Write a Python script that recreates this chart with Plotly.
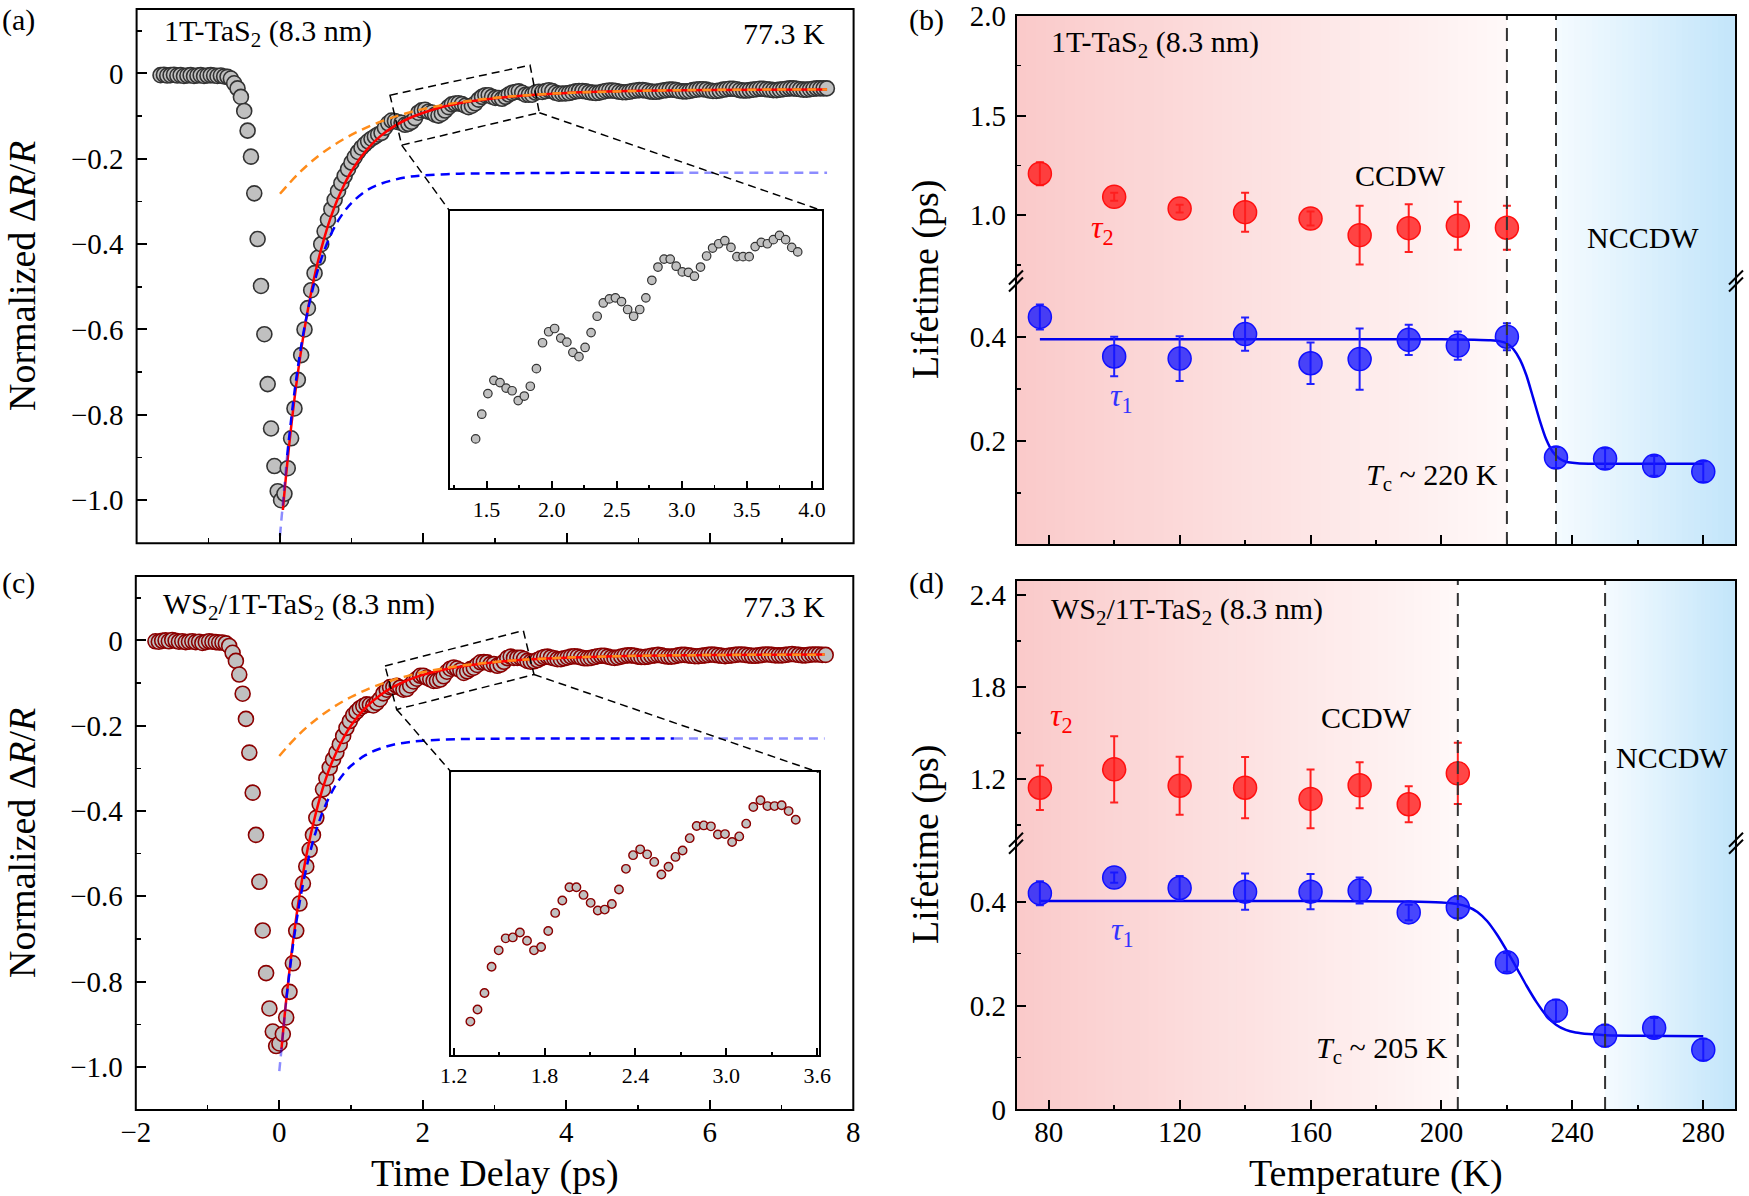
import plotly.graph_objects as go

W, H = 1749, 1196
FONT = "Liberation Serif"

# ---------------- panel (a): 1T-TaS2, 77.3 K ----------------
delay_a = [
    -1.666, -1.619, -1.573, -1.526, -1.479, -1.432, -1.386, -1.339, -1.292, -1.246,
    -1.199, -1.152, -1.106, -1.059, -1.012, -0.966, -0.919, -0.872, -0.825, -0.779,
    -0.732, -0.685, -0.639, -0.592, -0.545, -0.499, -0.452, -0.405, -0.359, -0.312,
    -0.265, -0.218, -0.172, -0.125, -0.078, -0.032, 0.015, 0.062, 0.108, 0.155,
    0.202, 0.249, 0.295, 0.342, 0.389, 0.435, 0.482, 0.529, 0.575, 0.622,
    0.669, 0.716, 0.762, 0.809, 0.856, 0.902, 0.949, 0.996, 1.042, 1.089,
    1.136, 1.183, 1.229, 1.276, 1.323, 1.369, 1.416, 1.463, 1.510, 1.556,
    1.603, 1.650, 1.696, 1.743, 1.790, 1.836, 1.883, 1.930, 1.977, 2.023,
    2.070, 2.117, 2.163, 2.210, 2.257, 2.303, 2.350, 2.397, 2.444, 2.490,
    2.537, 2.584, 2.630, 2.677, 2.724, 2.770, 2.817, 2.864, 2.911, 2.957,
    3.004, 3.051, 3.097, 3.144, 3.191, 3.237, 3.284, 3.331, 3.378, 3.424,
    3.471, 3.518, 3.564, 3.611, 3.658, 3.704, 3.751, 3.798, 3.845, 3.891,
    3.938, 3.985, 4.031, 4.078, 4.125, 4.171, 4.218, 4.265, 4.312, 4.358,
    4.405, 4.452, 4.498, 4.545, 4.592, 4.638, 4.685, 4.732, 4.779, 4.825,
    4.872, 4.919, 4.965, 5.012, 5.059, 5.105, 5.152, 5.199, 5.246, 5.292,
    5.339, 5.386, 5.432, 5.479, 5.526, 5.572, 5.619, 5.666, 5.713, 5.759,
    5.806, 5.853, 5.899, 5.946, 5.993, 6.039, 6.086, 6.133, 6.180, 6.226,
    6.273, 6.320, 6.366, 6.413, 6.460, 6.506, 6.553, 6.600, 6.647, 6.693,
    6.740, 6.787, 6.833, 6.880, 6.927, 6.973, 7.020, 7.067, 7.114, 7.160,
    7.207, 7.254, 7.300, 7.347, 7.394, 7.440, 7.487, 7.534, 7.581, 7.627,
]
signal_a = [
    -0.004, -0.003, -0.005, -0.004, -0.003, -0.005, -0.004, -0.006, -0.005, -0.004,
    -0.006, -0.005, -0.004, -0.006, -0.005, -0.004, -0.005, -0.006, -0.005, -0.007,
    -0.008, -0.012, -0.023, -0.035, -0.055, -0.088, -0.134, -0.195, -0.281, -0.388,
    -0.498, -0.611, -0.728, -0.832, -0.920, -0.979, -1.000, -0.985, -0.925, -0.855,
    -0.785, -0.718, -0.660, -0.600, -0.550, -0.508, -0.468, -0.432, -0.400, -0.370,
    -0.343, -0.318, -0.296, -0.276, -0.257, -0.240, -0.224, -0.209, -0.196, -0.184,
    -0.174, -0.166, -0.159, -0.153, -0.148, -0.143, -0.1391, -0.1270, -0.1169, -0.1104,
    -0.1115, -0.1142, -0.1155, -0.1203, -0.1181, -0.1133, -0.1047, -0.0920, -0.0866, -0.0850,
    -0.0897, -0.0917, -0.0967, -0.0988, -0.0943, -0.0870, -0.0790, -0.0725, -0.0705, -0.0700,
    -0.0718, -0.0757, -0.0790, -0.0757, -0.0700, -0.0614, -0.0549, -0.0510, -0.0510, -0.0545,
    -0.0573, -0.0575, -0.0594, -0.0549, -0.0495, -0.0456, -0.0435, -0.0420, -0.0453, -0.0498,
    -0.0498, -0.0498, -0.0449, -0.0428, -0.0435, -0.0415, -0.0394, -0.0415, -0.0453, -0.0475,
    -0.047, -0.047, -0.046, -0.044, -0.042, -0.041, -0.041, -0.042, -0.044, -0.045,
    -0.046, -0.045, -0.043, -0.041, -0.040, -0.040, -0.041, -0.043, -0.044, -0.044,
    -0.043, -0.041, -0.040, -0.039, -0.039, -0.040, -0.042, -0.043, -0.043, -0.042,
    -0.040, -0.039, -0.038, -0.038, -0.039, -0.041, -0.042, -0.042, -0.041, -0.039,
    -0.038, -0.037, -0.037, -0.038, -0.040, -0.041, -0.041, -0.040, -0.038, -0.037,
    -0.036, -0.036, -0.037, -0.039, -0.040, -0.040, -0.039, -0.038, -0.037, -0.036,
    -0.036, -0.037, -0.038, -0.039, -0.039, -0.038, -0.037, -0.036, -0.035, -0.035,
    -0.036, -0.037, -0.038, -0.038, -0.037, -0.036, -0.035, -0.035, -0.035, -0.035,
]
INSET_A = (66, 120)          # points shown in the inset of (a)

fit_t_a = [0.04, 0.1, 0.2, 0.3, 0.4, 0.5, 0.6, 0.7, 0.8, 0.9, 1.0, 1.2, 1.4, 1.6,
           1.8, 2.0, 2.3, 2.6, 3.0, 3.5, 4.0, 5.0, 6.0, 7.63]
fit_a = [-1.023, -0.916, -0.765, -0.643, -0.543, -0.461, -0.396, -0.341, -0.296,
         -0.259, -0.228, -0.181, -0.147, -0.123, -0.105, -0.092, -0.077, -0.067,
         -0.058, -0.0506, -0.0457, -0.0408, -0.0386, -0.0374]
slow_t_a = [0, 0.25, 0.5, 0.75, 1.0, 1.25, 1.5, 1.75, 2.0, 2.5, 3.0, 3.5, 4.0, 5.0, 6.0, 7.63]
slow_a = [-0.282, -0.236, -0.198, -0.168, -0.1436, -0.1235, -0.1072, -0.094, -0.0833,
          -0.0675, -0.0571, -0.0503, -0.0457, -0.0408, -0.0386, -0.0374]
fast_t_a = [0, 0.1, 0.2, 0.3, 0.4, 0.5, 0.6, 0.7, 0.8, 0.9, 1.0, 1.2, 1.4, 1.6, 1.8,
            2.0, 2.5, 3.0, 4.0, 5.5, 7.63]
fast_a = [-1.083, -0.895, -0.749, -0.634, -0.546, -0.477, -0.423, -0.381, -0.348,
          -0.323, -0.303, -0.275, -0.259, -0.249, -0.242, -0.239, -0.235, -0.234,
          -0.233, -0.233, -0.233]

# ---------------- panel (c): WS2/1T-TaS2, 77.3 K ----------------
delay_c = [
    -1.726, -1.679, -1.632, -1.585, -1.539, -1.492, -1.445, -1.399, -1.352, -1.305,
    -1.259, -1.212, -1.165, -1.118, -1.072, -1.025, -0.978, -0.932, -0.885, -0.838,
    -0.792, -0.745, -0.698, -0.651, -0.605, -0.558, -0.511, -0.465, -0.418, -0.371,
    -0.325, -0.278, -0.231, -0.184, -0.138, -0.091, -0.044, 0.002, 0.049, 0.096,
    0.142, 0.189, 0.236, 0.282, 0.329, 0.376, 0.423, 0.469, 0.516, 0.563,
    0.609, 0.656, 0.703, 0.749, 0.796, 0.843, 0.890, 0.936, 0.983, 1.030,
    1.076, 1.123, 1.170, 1.216, 1.263, 1.310, 1.357, 1.403, 1.450, 1.497,
    1.543, 1.590, 1.637, 1.684, 1.730, 1.777, 1.824, 1.870, 1.917, 1.964,
    2.010, 2.057, 2.104, 2.151, 2.197, 2.244, 2.291, 2.337, 2.384, 2.431,
    2.477, 2.524, 2.571, 2.618, 2.664, 2.711, 2.758, 2.804, 2.851, 2.898,
    2.944, 2.991, 3.038, 3.085, 3.131, 3.178, 3.225, 3.271, 3.318, 3.365,
    3.411, 3.458, 3.505, 3.552, 3.598, 3.645, 3.692, 3.738, 3.785, 3.832,
    3.878, 3.925, 3.972, 4.019, 4.065, 4.112, 4.159, 4.205, 4.252, 4.299,
    4.345, 4.392, 4.439, 4.486, 4.532, 4.579, 4.626, 4.672, 4.719, 4.766,
    4.812, 4.859, 4.906, 4.953, 4.999, 5.046, 5.093, 5.139, 5.186, 5.233,
    5.279, 5.326, 5.373, 5.420, 5.466, 5.513, 5.560, 5.606, 5.653, 5.700,
    5.746, 5.793, 5.840, 5.887, 5.933, 5.980, 6.027, 6.073, 6.120, 6.167,
    6.213, 6.260, 6.307, 6.354, 6.400, 6.447, 6.494, 6.540, 6.587, 6.634,
    6.680, 6.727, 6.774, 6.821, 6.867, 6.914, 6.961, 7.007, 7.054, 7.101,
    7.147, 7.194, 7.241, 7.288, 7.334, 7.381, 7.428, 7.474, 7.521, 7.568,
    7.615,
]
signal_c = [
    -0.002, -0.003, -0.001, 0.000, -0.002, 0.001, -0.001, -0.003, -0.002, -0.004,
    -0.003, -0.002, -0.004, -0.003, -0.006, -0.004, -0.002, -0.003, -0.004, -0.005,
    -0.005, -0.007, -0.013, -0.029, -0.048, -0.080, -0.125, -0.184, -0.263, -0.357,
    -0.456, -0.566, -0.680, -0.780, -0.863, -0.917, -0.951, -0.945, -0.923, -0.884,
    -0.824, -0.757, -0.681, -0.617, -0.570, -0.530, -0.491, -0.456, -0.416, -0.384,
    -0.349, -0.323, -0.298, -0.279, -0.263, -0.244, -0.224, -0.205, -0.189, -0.175,
    -0.167, -0.159, -0.154, -0.150, -0.151, -0.1526, -0.1463, -0.1378, -0.1242, -0.1157,
    -0.1095, -0.1090, -0.1065, -0.1107, -0.1157, -0.1140, -0.1057, -0.0963, -0.0899, -0.0830,
    -0.0830, -0.0870, -0.0911, -0.0951, -0.0946, -0.0917, -0.0842, -0.0735, -0.0664, -0.0634,
    -0.0660, -0.0699, -0.0764, -0.0724, -0.0673, -0.0640, -0.0576, -0.0513, -0.0510, -0.0515,
    -0.0557, -0.0555, -0.0596, -0.0567, -0.0501, -0.0415, -0.0380, -0.0410, -0.0410, -0.0406,
    -0.0436, -0.0481, -0.050, -0.049, -0.046, -0.042, -0.039, -0.038, -0.040, -0.042,
    -0.044, -0.044, -0.042, -0.040, -0.038, -0.037, -0.038, -0.040, -0.042, -0.042,
    -0.041, -0.039, -0.037, -0.036, -0.036, -0.038, -0.040, -0.041, -0.040, -0.038,
    -0.036, -0.035, -0.035, -0.036, -0.038, -0.039, -0.039, -0.038, -0.036, -0.035,
    -0.034, -0.035, -0.037, -0.038, -0.038, -0.037, -0.035, -0.034, -0.034, -0.035,
    -0.036, -0.037, -0.037, -0.036, -0.035, -0.034, -0.033, -0.034, -0.035, -0.036,
    -0.037, -0.036, -0.035, -0.034, -0.033, -0.033, -0.034, -0.035, -0.036, -0.036,
    -0.035, -0.034, -0.033, -0.033, -0.034, -0.035, -0.035, -0.035, -0.034, -0.033,
    -0.032, -0.033, -0.034, -0.035, -0.035, -0.034, -0.033, -0.033, -0.033, -0.034,
    -0.034,
]
INSET_C = (65, 112)          # points shown in the inset of (c)

fit_t_c = [0.03, 0.1, 0.2, 0.3, 0.4, 0.5, 0.6, 0.7, 0.8, 0.9, 1.0, 1.2, 1.4, 1.6,
           1.8, 2.0, 2.3, 2.6, 3.0, 3.5, 4.0, 5.0, 6.0, 7.6]
fit_c = [-0.959, -0.837, -0.694, -0.578, -0.485, -0.411, -0.350, -0.300, -0.2605,
         -0.227, -0.1997, -0.158, -0.129, -0.108, -0.0925, -0.0808, -0.0681, -0.0592,
         -0.051, -0.0444, -0.0404, -0.0361, -0.0343, -0.0333]
slow_t_c = [0, 0.25, 0.5, 0.75, 1.0, 1.25, 1.5, 1.75, 2.0, 2.5, 3.0, 3.5, 4.0, 5.0, 6.0, 7.6]
slow_c = [-0.271, -0.2245, -0.187, -0.157, -0.1327, -0.1132, -0.0975, -0.0849, -0.0748,
          -0.0601, -0.0505, -0.0444, -0.0404, -0.0361, -0.0343, -0.0333]
fast_t_c = [0, 0.1, 0.2, 0.3, 0.4, 0.5, 0.6, 0.7, 0.8, 0.9, 1.0, 1.2, 1.4, 1.6, 1.8,
            2.0, 2.5, 3.0, 4.0, 5.5, 7.6]
fast_c = [-1.010, -0.838, -0.703, -0.598, -0.517, -0.4535, -0.404, -0.366, -0.3355,
          -0.312, -0.294, -0.269, -0.254, -0.244, -0.2387, -0.2352, -0.2315, -0.2304,
          -0.230, -0.230, -0.230]

# ---------------- panel (b): lifetimes, 1T-TaS2 ----------------
temp_b_tau2 = [77.3, 100, 120, 140, 160, 175, 190, 205, 220]
tau2_b = [1.208, 1.092, 1.033, 1.015, 0.983, 0.900, 0.935, 0.947, 0.937]
tau2_b_err = [0.058, 0.02, 0.02, 0.098, 0.035, 0.147, 0.12, 0.12, 0.11]
temp_b_tau1 = [77.3, 100, 120, 140, 160, 175, 190, 205, 220, 235, 250, 265, 280]
tau1_b = [0.438, 0.362, 0.358, 0.405, 0.349, 0.357, 0.394, 0.383, 0.400, 0.168, 0.166, 0.152, 0.141]
tau1_b_err = [0.024, 0.038, 0.043, 0.032, 0.040, 0.059, 0.029, 0.027, 0.026, 0.02, 0.02, 0.019, 0.02]
fit_T_b = [77.3, 100, 150, 200, 210, 215, 218, 220, 222, 224, 226, 228, 230, 232, 234,
           236, 238, 240, 245, 250, 260, 270, 280]
fit_tau1_b = [0.395, 0.395, 0.395, 0.395, 0.394, 0.393, 0.391, 0.387, 0.376, 0.356,
              0.325, 0.283, 0.240, 0.203, 0.179, 0.166, 0.160, 0.158, 0.156, 0.156,
              0.156, 0.156, 0.156]
phase_b = [220, 235]         # dashed boundaries (K)

# ---------------- panel (d): lifetimes, WS2/1T-TaS2 ----------------
temp_d_tau2 = [77.3, 100, 120, 140, 160, 175, 190, 205]
tau2_d = [1.143, 1.263, 1.156, 1.143, 1.070, 1.159, 1.035, 1.237]
tau2_d_err = [0.145, 0.216, 0.189, 0.20, 0.192, 0.15, 0.117, 0.20]
temp_d_tau1 = [77.3, 100, 120, 140, 160, 175, 190, 205, 220, 235, 250, 265, 280]
tau1_d = [0.416, 0.446, 0.426, 0.419, 0.419, 0.421, 0.379, 0.389, 0.283, 0.190, 0.142, 0.157, 0.115]
tau1_d_err = [0.023, 0.01, 0.023, 0.035, 0.034, 0.025, 0.015, 0.021, 0.018, 0.021, 0.021, 0.019, 0.021]
fit_T_d = [77.3, 120, 160, 190, 200, 205, 208, 211, 214, 217, 220, 223, 226, 229, 232,
           235, 238, 241, 245, 250, 260, 280]
fit_tau1_d = [0.401, 0.401, 0.401, 0.400, 0.398, 0.395, 0.390, 0.380, 0.362, 0.336,
              0.305, 0.272, 0.238, 0.207, 0.181, 0.163, 0.153, 0.148, 0.145, 0.143,
              0.142, 0.141]
phase_d = [205, 250]

# zoom-box outlines (data coords of main panels)
zoombox_a = [(1.534, -0.051), (3.487, 0.0195), (3.617, -0.092), (1.697, -0.168)]
zoombox_c = [(1.473, -0.060), (3.401, 0.023), (3.550, -0.080), (1.636, -0.162)]

# ---------------- layout geometry (paper fractions) ----------------
def fx(p):
    return p / W


def fy(p):
    return 1 - p / H


DOM_A_X = [fx(136.6), fx(853.6)]
DOM_A_Y = [fy(543.3), fy(9)]
DOM_C_X = [fx(135.8), fx(853.3)]
DOM_C_Y = [fy(1110), fy(576)]
DOM_IA_X = [fx(449.5), fx(822.3)]
DOM_IA_Y = [fy(488.3), fy(210.7)]
DOM_IC_X = [fx(451.3), fx(818.6)]
DOM_IC_Y = [fy(1055), fy(772.3)]
DOM_BD_X = [fx(1016), fx(1736)]
DOM_B_UP = [fy(281), fy(15)]
DOM_B_LO = [fy(545), fy(281)]
DOM_D_UP = [fy(843.3), fy(580)]
DOM_D_LO = [fy(1110), fy(843.3)]

RANGE_T = [-2, 8]
RANGE_V = [-1.101, 0.151]
RANGE_IA_X = [1.215, 4.08]
RANGE_IA_Y = [-0.1633, -0.0273]
RANGE_IC_X = [1.184, 3.609]
RANGE_IC_Y = [-0.1699, -0.0235]
RANGE_TEMP = [70, 290]

GRAY = '#C0C0C0'
RED = '#FF0000'
BLUE = '#0000FF'
ORANGE = '#FF8C1A'

TICK_SIZE = 29
TITLE_SIZE = 38
TEXT_SIZE = 30

fig = go.Figure()


def decay_traces(xa, ya, t, v, edge, ft, fv, st, sv, bt, bv):
    fig.add_trace(go.Scatter(x=t, y=v, mode='markers', xaxis=xa, yaxis=ya,
                             marker=dict(size=15, color=GRAY, line=dict(color=edge, width=1.6)),
                             hoverinfo='skip'))
    fig.add_trace(go.Scatter(x=ft, y=fv, mode='lines', xaxis=xa, yaxis=ya,
                             line=dict(color=RED, width=2.5, shape='spline'), hoverinfo='skip'))
    # fast component (blue dashed), faded at both ends
    fig.add_trace(go.Scatter(x=bt[:2], y=bv[:2], mode='lines', xaxis=xa, yaxis=ya, opacity=0.45,
                             line=dict(color=BLUE, width=2.5, dash='9px,6px'), hoverinfo='skip'))
    fig.add_trace(go.Scatter(x=bt[1:20], y=bv[1:20], mode='lines', xaxis=xa, yaxis=ya,
                             line=dict(color=BLUE, width=2.5, dash='9px,6px', shape='spline'),
                             hoverinfo='skip'))
    fig.add_trace(go.Scatter(x=bt[19:], y=bv[19:], mode='lines', xaxis=xa, yaxis=ya, opacity=0.45,
                             line=dict(color=BLUE, width=2.5, dash='9px,6px'), hoverinfo='skip'))
    fig.add_trace(go.Scatter(x=st, y=sv, mode='lines', xaxis=xa, yaxis=ya,
                             line=dict(color=ORANGE, width=2.5, dash='9px,6px', shape='spline'),
                             hoverinfo='skip'))


decay_traces('x', 'y', delay_a, signal_a, '#333333', fit_t_a, fit_a, slow_t_a, slow_a, fast_t_a, fast_a)
decay_traces('x3', 'y3', delay_c, signal_c, '#8B0000', fit_t_c, fit_c, slow_t_c, slow_c, fast_t_c, fast_c)

# insets
fig.add_trace(go.Scatter(x=delay_a[INSET_A[0]:INSET_A[1]], y=signal_a[INSET_A[0]:INSET_A[1]],
                         mode='markers', xaxis='x2', yaxis='y2',
                         marker=dict(size=8.5, color=GRAY, line=dict(color='#333333', width=1.2)),
                         hoverinfo='skip'))
fig.add_trace(go.Scatter(x=delay_c[INSET_C[0]:INSET_C[1]], y=signal_c[INSET_C[0]:INSET_C[1]],
                         mode='markers', xaxis='x4', yaxis='y4',
                         marker=dict(size=8.5, color=GRAY, line=dict(color='#8B0000', width=1.4)),
                         hoverinfo='skip'))


def lifetime_traces(xa, ya_up, ya_lo, T2, tau2, e2, T1, tau1, e1, fT, fv):
    fig.add_trace(go.Scatter(x=T2, y=tau2, mode='markers', xaxis=xa, yaxis=ya_up,
                             marker=dict(size=23, color='rgba(255,30,30,0.82)',
                                         line=dict(color='#FF1010', width=1.5)),
                             error_y=dict(type='data', array=e2, color='#FF2020', thickness=2, width=4),
                             hoverinfo='skip'))
    fig.add_trace(go.Scatter(x=fT, y=fv, mode='lines', xaxis=xa, yaxis=ya_lo,
                             line=dict(color='#0000EE', width=2.5, shape='spline', smoothing=0.6),
                             hoverinfo='skip'))
    fig.add_trace(go.Scatter(x=T1, y=tau1, mode='markers', xaxis=xa, yaxis=ya_lo,
                             marker=dict(size=23, color='rgba(20,20,255,0.78)',
                                         line=dict(color='#1010FF', width=1.5)),
                             error_y=dict(type='data', array=e1, color='#2020FF', thickness=2, width=4),
                             hoverinfo='skip'))


lifetime_traces('x5', 'y5', 'y6', temp_b_tau2, tau2_b, tau2_b_err, temp_b_tau1, tau1_b, tau1_b_err,
                fit_T_b, fit_tau1_b)
lifetime_traces('x6', 'y7', 'y8', temp_d_tau2, tau2_d, tau2_d_err, temp_d_tau1, tau1_d, tau1_d_err,
                fit_T_d, fit_tau1_d)


# ---------------- axes ----------------
def axis(domain, anchor, rng, tickvals, ticktext=None, minor=None, labels=True, size=TICK_SIZE,
         ticklen=10, standoff=9, **kw):
    d = dict(domain=domain, anchor=anchor, range=rng, showgrid=False, zeroline=False,
             showline=False, ticks='inside', ticklen=ticklen, tickwidth=2, tickcolor='black',
             tickmode='array', tickvals=tickvals, showticklabels=labels, automargin=False,
             tickfont=dict(family=FONT, size=size, color='black'), ticklabelstandoff=standoff,
             ticklabeloverflow='allow')
    if ticktext is not None:
        d['ticktext'] = ticktext
    if minor is not None:
        d['minor'] = dict(tickmode='array', tickvals=minor, ticks='inside', ticklen=ticklen / 2,
                          tickwidth=1.5, tickcolor='black', showgrid=False)
    d.update(kw)
    return d


t_ticks = [-2, 0, 2, 4, 6, 8]
t_minor = [-1, 1, 3, 5, 7]
v_ticks = [0, -0.2, -0.4, -0.6, -0.8, -1.0]
v_text = ['0', '\u22120.2', '\u22120.4', '\u22120.6', '\u22120.8', '\u22121.0']
v_minor = [0.1, -0.1, -0.3, -0.5, -0.7, -0.9]
T_ticks = [80, 120, 160, 200, 240, 280]
T_minor = [100, 140, 180, 220, 260]

inset_line = dict(showline=True, mirror=True, linecolor='black', linewidth=2)

layout_axes = dict(
    xaxis=axis(DOM_A_X, 'y', RANGE_T, t_ticks, minor=t_minor, labels=False),
    yaxis=axis(DOM_A_Y, 'x', RANGE_V, v_ticks, v_text, v_minor, standoff=12),
    xaxis2=axis(DOM_IA_X, 'y2', RANGE_IA_X, [1.5, 2.0, 2.5, 3.0, 3.5, 4.0],
                ['1.5', '2.0', '2.5', '3.0', '3.5', '4.0'],
                [1.25, 1.75, 2.25, 2.75, 3.25, 3.75], size=22, ticklen=7, standoff=0,
                **inset_line),
    yaxis2=dict(domain=DOM_IA_Y, anchor='x2', range=RANGE_IA_Y, showgrid=False, zeroline=False,
                showticklabels=False, ticks='', automargin=False, **inset_line),
    xaxis3=axis(DOM_C_X, 'y3', RANGE_T, t_ticks, minor=t_minor, standoff=2),
    yaxis3=axis(DOM_C_Y, 'x3', RANGE_V, v_ticks, v_text, v_minor, standoff=12),
    xaxis4=axis(DOM_IC_X, 'y4', RANGE_IC_X, [1.2, 1.8, 2.4, 3.0, 3.6],
                ['1.2', '1.8', '2.4', '3.0', '3.6'], [1.5, 2.1, 2.7, 3.3],
                size=22, ticklen=7, standoff=0, **inset_line),
    yaxis4=dict(domain=DOM_IC_Y, anchor='x4', range=RANGE_IC_Y, showgrid=False, zeroline=False,
                showticklabels=False, ticks='', automargin=False, **inset_line),
    xaxis5=axis(DOM_BD_X, 'y6', RANGE_TEMP, T_ticks, minor=T_minor, labels=False),
    yaxis5=axis(DOM_B_UP, 'x5', [0.67, 2.004], [1.0, 1.5, 2.0], ['1.0', '1.5', '2.0'],
                [0.75, 1.25, 1.75]),
    yaxis6=axis(DOM_B_LO, 'x5', [0, 0.507], [0.2, 0.4], ['0.2', '0.4'], [0.1, 0.3]),
    xaxis6=axis(DOM_BD_X, 'y8', RANGE_TEMP, T_ticks, minor=T_minor, standoff=2),
    yaxis7=axis(DOM_D_UP, 'x6', [0.78, 2.5], [1.2, 1.8, 2.4], ['1.2', '1.8', '2.4'],
                [0.9, 1.5, 2.1]),
    yaxis8=axis(DOM_D_LO, 'x6', [-0.001, 0.512], [0, 0.2, 0.4], ['0', '0.2', '0.4'], [0.1, 0.3]),
)

# ---------------- shapes ----------------
shapes = []


def gradient(xref, x0, x1, c0, c1, y0, y1, n=50):
    step = (x1 - x0) / n
    for k in range(n):
        f = (k + 0.5) / n
        col = tuple(int(round(c0[i] + (c1[i] - c0[i]) * f)) for i in range(3))
        xb = x0 + step * (k + 1) + (step * 0.4 if k < n - 1 else 0)
        shapes.append(dict(type='rect', xref=xref, yref='paper', x0=x0 + step * k, x1=xb,
                           y0=y0, y1=y1, fillcolor='rgb(%d,%d,%d)' % col,
                           line=dict(width=0), layer='below'))


PINK0, PINK1 = (250, 202, 202), (255, 248, 248)
SKY0, SKY1 = (245, 251, 255), (194, 229, 250)
gradient('x5', RANGE_TEMP[0], phase_b[0], PINK0, PINK1, DOM_B_LO[0], DOM_B_UP[1])
gradient('x5', phase_b[1], RANGE_TEMP[1], SKY0, SKY1, DOM_B_LO[0], DOM_B_UP[1], n=30)
gradient('x6', RANGE_TEMP[0], phase_d[0], PINK0, PINK1, DOM_D_LO[0], DOM_D_UP[1])
gradient('x6', phase_d[1], RANGE_TEMP[1], SKY0, SKY1, DOM_D_LO[0], DOM_D_UP[1], n=30)

for xref, bounds, lo, hi in (('x5', phase_b, DOM_B_LO[0], DOM_B_UP[1]),
                             ('x6', phase_d, DOM_D_LO[0], DOM_D_UP[1])):
    for xv in bounds:
        shapes.append(dict(type='line', xref=xref, yref='paper', x0=xv, x1=xv, y0=lo, y1=hi,
                           line=dict(color='#333333', width=2, dash='13px,8px'), layer='above'))

# panel frames
for dx, dy in ((DOM_A_X, DOM_A_Y), (DOM_C_X, DOM_C_Y),
               (DOM_BD_X, [DOM_B_LO[0], DOM_B_UP[1]]), (DOM_BD_X, [DOM_D_LO[0], DOM_D_UP[1]])):
    shapes.append(dict(type='rect', xref='paper', yref='paper', x0=dx[0], x1=dx[1], y0=dy[0],
                       y1=dy[1], line=dict(color='black', width=2), fillcolor='rgba(0,0,0,0)',
                       layer='above'))

# axis-break marks
for yb in (DOM_B_UP[0], DOM_D_UP[0]):
    for xb in DOM_BD_X:
        xp, yp = xb * W, (1 - yb) * H
        for off in (-3.5, 3.5):
            shapes.append(dict(type='line', xref='paper', yref='paper',
                               x0=fx(xp - 7), y0=fy(yp + 7 + off), x1=fx(xp + 7), y1=fy(yp - 7 + off),
                               line=dict(color='black', width=2), layer='above'))


def to_main(frac, dom, rng):
    return rng[0] + (frac - dom[0]) / (dom[1] - dom[0]) * (rng[1] - rng[0])


for xa, ya, box, dmx, dmy, dix, diy in (('x', 'y', zoombox_a, DOM_A_X, DOM_A_Y, DOM_IA_X, DOM_IA_Y),
                                        ('x3', 'y3', zoombox_c, DOM_C_X, DOM_C_Y, DOM_IC_X, DOM_IC_Y)):
    path = 'M ' + ' L '.join('%g,%g' % p for p in box) + ' Z'
    dash = dict(color='black', width=1.5, dash='8px,5px')
    shapes.append(dict(type='path', xref=xa, yref=ya, path=path, line=dash, layer='above'))
    top_v = to_main(diy[1], dmy, RANGE_V)
    left_t = to_main(dix[0], dmx, RANGE_T)
    right_t = to_main(dix[1], dmx, RANGE_T)
    shapes.append(dict(type='line', xref=xa, yref=ya, x0=box[3][0], y0=box[3][1],
                       x1=left_t, y1=top_v, line=dash, layer='above'))
    shapes.append(dict(type='line', xref=xa, yref=ya, x0=box[2][0], y0=box[2][1],
                       x1=right_t, y1=top_v, line=dash, layer='above'))

# ---------------- annotations ----------------
anns = []


def ann(text, x, y, xref='paper', yref='paper', size=TEXT_SIZE, color='black', xanchor='center',
        yanchor='middle', angle=0):
    anns.append(dict(text=text, x=x, y=y, xref=xref, yref=yref, showarrow=False,
                     font=dict(family=FONT, size=size, color=color), xanchor=xanchor,
                     yanchor=yanchor, textangle=angle))


ann('(a)', fx(0), fy(20), xanchor='left')
ann('(b)', fx(907), fy(20), xanchor='left')
ann('(c)', fx(0), fy(583), xanchor='left')
ann('(d)', fx(907), fy(583), xanchor='left')

ann('Normalized \u0394<i>R</i>/<i>R</i>', fx(22), fy(276), size=TITLE_SIZE, angle=-90)
ann('Normalized \u0394<i>R</i>/<i>R</i>', fx(22), fy(843), size=TITLE_SIZE, angle=-90)
ann('Lifetime (ps)', fx(925), fy(280), size=TITLE_SIZE, angle=-90)
ann('Lifetime (ps)', fx(925), fy(845), size=TITLE_SIZE, angle=-90)
ann('Time Delay (ps)', fx(495), fy(1173), size=TITLE_SIZE)
ann('Temperature (K)', fx(1376), fy(1173), size=TITLE_SIZE)

ann('1T-TaS<sub>2</sub> (8.3 nm)', -1.642, 0.094, 'x', 'y', xanchor='left')
ann('77.3 K', 7.63, 0.094, 'x', 'y', xanchor='right')
ann('WS<sub>2</sub>/1T-TaS<sub>2</sub> (8.3 nm)', -1.642, 0.080, 'x3', 'y3', xanchor='left')
ann('77.3 K', 7.63, 0.080, 'x3', 'y3', xanchor='right')

ann('1T-TaS<sub>2</sub> (8.3 nm)', 80, 1.86, 'x5', 'y5', xanchor='left')
ann('CCDW', 187.4, 1.20, 'x5', 'y5')
ann('NCCDW', 261.5, 0.89, 'x5', 'y5')
ann('<i>\u03c4</i><sub>2</sub>', 96.3, 0.93, 'x5', 'y5', size=32, color='#FF0000')
ann('<i>\u03c4</i><sub>1</sub>', 102.2, 0.2825, 'x5', 'y6', size=32, color='#3333FF')
ann('<i>T</i><sub>c</sub> ~ 220 K', 218, 0.131, 'x5', 'y6', xanchor='right')

ann('WS<sub>2</sub>/1T-TaS<sub>2</sub> (8.3 nm)', 80, 2.30, 'x6', 'y7', xanchor='left')
ann('CCDW', 177, 1.604, 'x6', 'y7')
ann('NCCDW', 270.5, 1.343, 'x6', 'y7')
ann('<i>\u03c4</i><sub>2</sub>', 84, 1.604, 'x6', 'y7', size=32, color='#FF0000')
ann('<i>\u03c4</i><sub>1</sub>', 102.4, 0.342, 'x6', 'y8', size=32, color='#3333FF')
ann('<i>T</i><sub>c</sub> ~ 205 K', 202.6, 0.115, 'x6', 'y8', xanchor='right')

fig.update_layout(
    template='none',
    width=W, height=H, margin=dict(l=0, r=0, t=0, b=0, pad=0, autoexpand=False),
    paper_bgcolor='white', plot_bgcolor='rgba(0,0,0,0)',
    showlegend=False, hovermode=False,
    font=dict(family=FONT, size=TEXT_SIZE, color='black'),
    shapes=shapes, annotations=anns,
    **layout_axes,
)

fig.write_html(
    'out.html',
    config={'displayModeBar': False, 'staticPlot': True},
    post_script="document.body.style.margin='0';document.body.style.padding='0';"
                "document.body.style.overflow='hidden';",
)
